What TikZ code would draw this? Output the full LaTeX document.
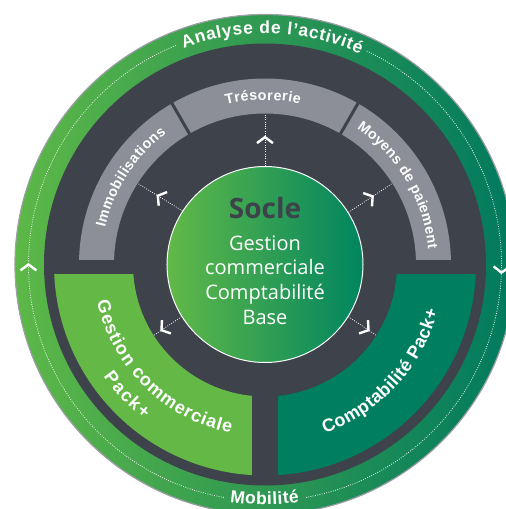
\documentclass[tikz,border=0pt]{standalone}
\usepackage{fontspec}
\setmainfont{Open Sans}
\newfontfamily\labelfont{Liberation Sans}
\usetikzlibrary{decorations.markings,decorations.text}

\definecolor{darkbg}{HTML}{3D424B}
\definecolor{graypart}{HTML}{8C8E98}
\definecolor{lightgreen}{HTML}{64B946}
\definecolor{tealgreen}{HTML}{007F60}
\definecolor{ringL}{HTML}{5DB847}
\definecolor{ringM}{HTML}{08994F}
\definecolor{ringR}{HTML}{00795E}
\definecolor{socleL}{HTML}{62B947}
\definecolor{socleM}{HTML}{00A050}
\definecolor{socleR}{HTML}{008560}
\definecolor{rimgray}{HTML}{9D9EA6}

\newcommand\ringfont{\labelfont\bfseries\fontsize{17.5}{17.5}\selectfont}
\newcommand\segfont{\labelfont\bfseries\fontsize{14.3}{14.3}\selectfont}
\newcommand\packfont{\labelfont\bfseries\fontsize{18}{18}\selectfont}

\begin{document}
\begin{tikzpicture}[x=1pt,y=1pt,
  flow/.style={white,line width=0.8pt,dash pattern=on 0.8pt off 1.5pt},
  chevat/.style={postaction={decorate},decoration={markings,mark=at position #1 with {\draw[white,solid,line width=2.4pt,line join=miter] (-6pt,8pt) -- (0pt,0pt) -- (-6pt,-8pt);}}},
  ringtext/.style={decoration={text along path,text align=fit to path,text color=white,text={#1}},decorate}
]
\useasboundingbox (-265,-244.5) rectangle (241,264.5);
\clip (-265,-244.5) rectangle (241,264.5);

%Shape: Circle (outer ring)
\fill[left color=ringL,middle color=ringM,right color=ringR] (0,0) circle (250);
\draw[rimgray,line width=1.2pt] (0,0) circle (250);
%Shape: Circle (dark disc)
\fill[darkbg] (0,0) circle (221);

%Shape: Annulus (gray modules)
\begin{scope}
\clip (-250,5.5) rectangle (250,250);
\fill[graypart,even odd rule] (0,0) circle (186) (0,0) circle (151);
\end{scope}
\draw[darkbg,line width=3pt] (60:149) -- (60:188);
\draw[darkbg,line width=3pt] (120:149) -- (120:188);

%Shape: Annulus (Gestion commerciale Pack+)
\begin{scope}
\clip (-250,-9.5) rectangle (-13,-250);
\fill[lightgreen,even odd rule] (0,0) circle (211) (0,0) circle (132);
\end{scope}
%Shape: Annulus (Comptabilite Pack+)
\begin{scope}
\clip (13,-9.5) rectangle (250,-250);
\fill[tealgreen,even odd rule] (0,0) circle (211) (0,0) circle (132);
\end{scope}

%Shape: Circle (socle)
\node[circle,minimum size=196pt,inner sep=0pt,draw=white,line width=1pt,left color=socleL,middle color=socleM,right color=socleR] (socle) at (0,0) {};

% Arrow ends
\coordinate (tres) at (90:151);
\coordinate (immo) at (147.5:151);
\coordinate (moyen) at (32.5:151);
\coordinate (gcpack) at (212.5:132);
\coordinate (cppack) at (-32.5:132);
%Straight Lines
\draw[flow,chevat=0.55] (socle.90) -- (tres);
\draw[flow,chevat=0.55] (socle.147.5) -- (immo);
\draw[flow,chevat=0.55] (socle.32.5) -- (moyen);
\draw[flow,chevat=0.72] (socle.212.5) -- (gcpack);
\draw[flow,chevat=0.72] (socle.-32.5) -- (cppack);

%Shape: Arc (outer flow)
\draw[flow,chevat=0.54] (260:236.5) arc[start angle=260,end angle=111.8,radius=236.5];
\draw[flow,chevat=0.46] (64.5:236.5) arc[start angle=64.5,end angle=-80,radius=236.5];

% Text Node
\path[ringtext={|\ringfont|Analyse de l’activité}] (110.6:231) arc[start angle=110.6,end angle=65.7,radius=231];
% Text Node
\path[ringtext={|\ringfont|Mobilité}] (261.6:240) arc[start angle=261.6,end angle=278.2,radius=240];
% Text Node
\path[ringtext={|\segfont|Trésorerie}] (103.7:164.5) arc[start angle=103.7,end angle=77.7,radius=164.5];
% Text Node
\path[ringtext={|\segfont|Immobilisations}] (167:164) arc[start angle=167,end angle=127,radius=164];
% Text Node
\path[ringtext={|\segfont|Moyens de paiement}] (56:164) arc[start angle=56,end angle=5.5,radius=164];
% Text Node
\path[ringtext={|\packfont|Gestion commerciale}] (192.5:172) arc[start angle=192.5,end angle=258.5,radius=172];
% Text Node
\path[ringtext={|\packfont|Pack+}] (214.7:196.5) arc[start angle=214.7,end angle=232.1,radius=196.5];
% Text Node
\path[ringtext={|\packfont|Comptabilité Pack+}] (-70.5:179) arc[start angle=-70.5,end angle=-15,radius=179];

% Text Node
\node[anchor=base,text=darkbg,font=\bfseries\fontsize{28}{28}\selectfont] (socletitle) at (0,46.5) {Socle};
% Text Node
\node[anchor=base,text=white,font=\fontsize{20}{20}\selectfont] (soclegest) at (0,14.5) {Gestion};
% Text Node
\node[anchor=base,text=white,font=\fontsize{20}{20}\selectfont] (soclecomm) at (0,-9.5) {commerciale};
% Text Node
\node[anchor=base,text=white,font=\fontsize{20}{20}\selectfont] (soclecompta) at (0,-34.5) {Comptabilité};
% Text Node
\node[anchor=base,text=white,font=\fontsize{20}{20}\selectfont] (soclebase) at (0,-59.5) {Base};

\end{tikzpicture}
\end{document}
